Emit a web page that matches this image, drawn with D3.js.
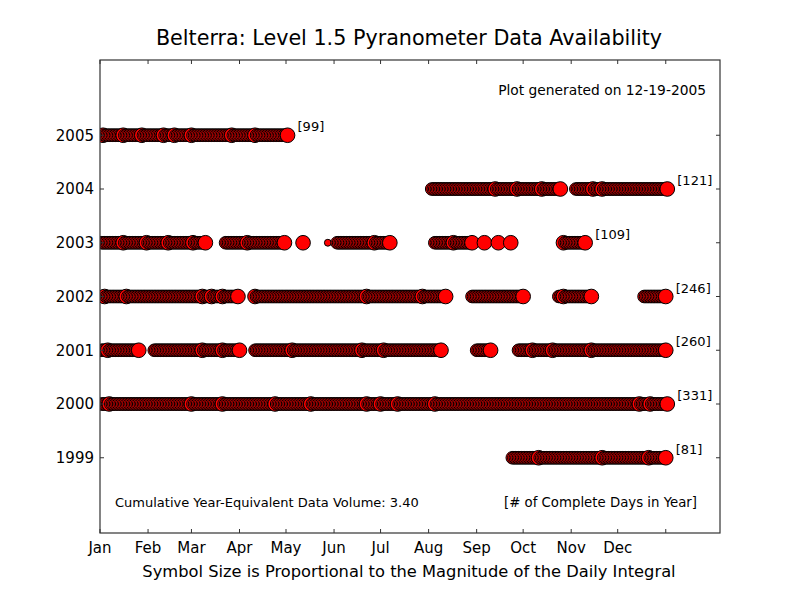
<!DOCTYPE html>
<html>
<head>
<meta charset="utf-8">
<script src="https://cdn.jsdelivr.net/npm/d3@7"></script>
<style>
  body { margin: 0; background: #fff; }
  text { font-family: "DejaVu Sans", sans-serif; fill: #000; }
</style>
</head>
<body>
<div id="chart"></div>
<script>
////// DATA ///////////
// years on the y axis and number of complete days in each
const years = [1999, 2000, 2001, 2002, 2003, 2004, 2005];
const completeDays = [81, 331, 260, 246, 109, 121, 99];

// runs of days (day of year) that have data, per year
const ranges1999 = [[266, 365]];
const ranges2000 = [[1, 366]];
const ranges2001 = [[1, 25], [35, 90], [100, 220], [243, 252], [270, 365]];
const ranges2002 = [[1, 89], [100, 223], [240, 273], [296, 317], [351, 365]];
const ranges2003 = [[1, 68], [81, 119], [131, 131], [147, 147], [153, 187], [216, 240], [248, 248], [257, 257], [265, 265], [299, 313]];
const ranges2004 = [[214, 297], [307, 366]];
const ranges2005 = [[1, 121]];

// days with a large daily integral (bigger symbol)
const big1999 = [283, 324, 354, 365];
const big2000 = [6, 59, 79, 113, 136, 172, 181, 192, 216, 348, 355, 366];
const big2001 = [5, 25, 66, 79, 90, 99, 124, 169, 183, 220, 252, 279, 292, 317, 365];
const big2002 = [3, 17, 66, 72, 79, 89, 100, 172, 208, 223, 273, 299, 317, 365];
const big2003 = [15, 30, 44, 60, 68, 95, 119, 131, 177, 187, 228, 240, 248, 257, 265, 299, 313];
const big2004 = [255, 269, 285, 297, 318, 324, 366];
const big2005 = [2, 15, 27, 41, 48, 59, 85, 100, 121];

// days with a small daily integral (smaller symbol)
const small2003 = [147];

// x axis months
const monthLabels = ["Jan", "Feb", "Mar", "Apr", "May", "Jun", "Jul", "Aug", "Sep", "Oct", "Nov", "Dec", ""];
const monthStarts = [0, 31, 59, 90, 120, 151, 181, 212, 243, 273, 304, 334, 365];

const rangesByYear = [ranges1999, ranges2000, ranges2001, ranges2002, ranges2003, ranges2004, ranges2005];
const bigByYear = [big1999, big2000, big2001, big2002, big2003, big2004, big2005];
const smallByYear = [[], [], [], [], small2003, [], []];

////// SETUP ///////////
const width = 800, height = 600;
const plot = { left: 100, right: 720, top: 60, bottom: 533 };

const svg = d3.select("#chart").append("svg")
  .attr("width", width)
  .attr("height", height);

const x = d3.scaleLinear().domain([0, 400]).range([plot.left, plot.right]);
const y = d3.scaleLinear().domain([1997.6, 2006.4]).range([plot.bottom, plot.top]);
// symbol size from daily integral magnitude
const r = d3.scaleSqrt().domain([0, 1]).range([0, 6.3]);

svg.append("clipPath").attr("id", "clip")
  .append("rect")
  .attr("x", plot.left).attr("y", plot.top)
  .attr("width", plot.right - plot.left)
  .attr("height", plot.bottom - plot.top);

// build one record per day
const points = [];
years.forEach((yr, i) => {
  rangesByYear[i].forEach(([a, b]) => {
    for (let d = a; d <= b; d++) {
      let mag = 1;
      if (bigByYear[i].includes(d)) mag = 1.35;
      if (smallByYear[i].includes(d)) mag = 0.3;
      points.push({ year: yr, day: d, mag: mag });
    }
  });
});

////// POINTS ///////////
svg.append("g")
  .attr("clip-path", "url(#clip)")
  .selectAll("circle")
  .data(points)
  .join("circle")
  .attr("cx", d => x(d.day))
  .attr("cy", d => y(d.year))
  .attr("r", d => r(d.mag))
  .attr("fill", "#ff0000")
  .attr("stroke", "#000")
  .attr("stroke-width", 1);

////// FRAME + TICKS ///////////
svg.append("rect")
  .attr("x", plot.left).attr("y", plot.top)
  .attr("width", plot.right - plot.left)
  .attr("height", plot.bottom - plot.top)
  .attr("fill", "none")
  .attr("stroke", "#333")
  .attr("stroke-width", 1.2);

const tickLen = 4;
const ticks = svg.append("g").attr("stroke", "#333").attr("stroke-width", 1);

monthStarts.forEach((m) => {
  ticks.append("line").attr("x1", x(m)).attr("x2", x(m)).attr("y1", plot.bottom).attr("y2", plot.bottom - tickLen);
  ticks.append("line").attr("x1", x(m)).attr("x2", x(m)).attr("y1", plot.top).attr("y2", plot.top + tickLen);
});
years.forEach((yr) => {
  ticks.append("line").attr("x1", plot.left).attr("x2", plot.left + tickLen).attr("y1", y(yr)).attr("y2", y(yr));
  ticks.append("line").attr("x1", plot.right).attr("x2", plot.right - tickLen).attr("y1", y(yr)).attr("y2", y(yr));
});

// month labels
svg.append("g").selectAll("text")
  .data(monthLabels)
  .join("text")
  .attr("x", (d, i) => x(monthStarts[i]))
  .attr("y", 553)
  .attr("text-anchor", "middle")
  .style("font-size", "15px")
  .text(d => d);

// year labels
svg.append("g").selectAll("text")
  .data(years)
  .join("text")
  .attr("x", 94)
  .attr("y", d => y(d))
  .attr("dy", "0.36em")
  .attr("text-anchor", "end")
  .style("font-size", "15px")
  .text(d => d);

// complete day counts
svg.append("g").selectAll("text")
  .data(years)
  .join("text")
  .attr("x", (d, i) => {
    const rs = rangesByYear[i];
    return x(rs[rs.length - 1][1]) + 10;
  })
  .attr("y", d => y(d) - 4)
  .style("font-size", "13px")
  .text((d, i) => "[" + completeDays[i] + "]");

////// TEXT ///////////
svg.append("text")
  .attr("x", 409).attr("y", 45)
  .attr("text-anchor", "middle")
  .style("font-size", "20.7px")
  .text("Belterra: Level 1.5 Pyranometer Data Availability");

svg.append("text")
  .attr("x", 706).attr("y", 95)
  .attr("text-anchor", "end")
  .style("font-size", "13.8px")
  .text("Plot generated on 12-19-2005");

svg.append("text")
  .attr("x", 115).attr("y", 507)
  .style("font-size", "13px")
  .text("Cumulative Year-Equivalent Data Volume: 3.40");

svg.append("text")
  .attr("x", 697).attr("y", 507)
  .attr("text-anchor", "end")
  .style("font-size", "13.3px")
  .text("[# of Complete Days in Year]");

svg.append("text")
  .attr("x", 409).attr("y", 577)
  .attr("text-anchor", "middle")
  .style("font-size", "16.3px")
  .text("Symbol Size is Proportional to the Magnitude of the Daily Integral");
</script>
</body>
</html>
